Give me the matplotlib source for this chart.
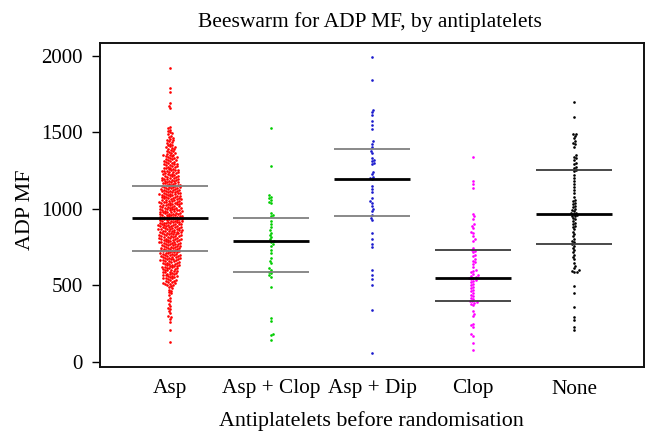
import numpy as np
import matplotlib
matplotlib.use("Agg")
import matplotlib.pyplot as plt

categories = ["Asp", "Asp + Clop", "Asp + Dip", "Clop", "None"]
colors = ["#FF0000", "#00CD00", "#1A1ACD", "#FF00FF", "#000000"]

asp = [1917, 1786, 1762, 1690, 1668, 1655, 1536, 1524, 1514, 1505,
       1498, 1492, 1485, 1478, 1470, 1463, 1457, 1451,
       1447, 1442, 1436, 1431, 1425, 1418, 1414, 1409, 1405, 1401,
       1397, 1393, 1389, 1384, 1380, 1376, 1371, 1367, 1363, 1358, 1354, 1351,
       1348, 1345, 1342, 1339, 1336, 1333, 1330, 1327, 1323, 1320, 1316, 1313, 1310, 1307, 1304, 1301,
       1298, 1295, 1292, 1290, 1287, 1284, 1281, 1278, 1275, 1272, 1269, 1266, 1264, 1261, 1258, 1255, 1253, 1251,
       1249, 1247, 1244, 1242, 1239, 1237, 1234, 1232, 1229, 1227, 1224, 1222, 1219, 1217, 1214, 1212, 1209, 1207, 1204, 1202,
       1199, 1197, 1195, 1193, 1190, 1188, 1186, 1183, 1181, 1179, 1176, 1174, 1172, 1170, 1167, 1165, 1163, 1160, 1158, 1156, 1154, 1152,
       1149, 1147, 1145, 1143, 1141, 1139, 1137, 1135, 1133, 1131, 1129, 1127, 1125, 1123, 1121, 1119, 1117, 1115, 1113, 1111, 1109, 1107, 1105, 1103, 1101,
       1099, 1097, 1095, 1094, 1092, 1090, 1088, 1086, 1085, 1083, 1081, 1079, 1077, 1075, 1073, 1071, 1069, 1067, 1065, 1063, 1061, 1059, 1057, 1055, 1053, 1051,
       1049, 1047, 1046, 1044, 1042, 1040, 1039, 1037, 1035, 1033, 1032, 1030, 1028, 1026, 1024, 1022, 1020, 1018, 1016, 1014, 1012, 1010, 1008, 1006, 1004, 1002, 1001,
       999, 997, 996, 994, 992, 990, 989, 987, 985, 983, 982, 980, 978, 976, 975, 973, 971, 969, 967, 965, 963, 961, 959, 958, 956, 954, 952, 951,
       949, 948, 946, 944, 943, 941, 940, 938, 936, 935, 933, 931, 930, 928, 926, 925, 923, 921, 920, 918, 916, 915, 913, 911, 910, 908, 906, 905, 903, 901,
       899, 898, 896, 894, 893, 891, 890, 888, 886, 885, 883, 881, 880, 878, 876, 875, 873, 871, 870, 868, 866, 865, 863, 861, 860, 858, 856, 855, 853, 851,
       849, 847, 846, 844, 842, 840, 839, 837, 835, 833, 832, 830, 828, 826, 825, 823, 821, 819, 817, 815, 813, 811, 809, 807, 805, 803, 802, 801,
       799, 797, 795, 794, 792, 790, 788, 786, 785, 783, 781, 779, 777, 775, 773, 771, 769, 767, 765, 763, 761, 759, 757, 755, 753, 751,
       749, 747, 745, 743, 741, 739, 737, 735, 733, 731, 729, 727, 725, 723, 721, 719, 717, 715, 713, 711, 709, 707, 705, 703, 701,
       699, 697, 695, 693, 691, 689, 687, 685, 683, 681, 679, 677, 675, 673, 671, 669, 667, 665, 663, 661, 659, 657, 655, 652,
       649, 647, 645, 642, 640, 638, 635, 633, 631, 628, 626, 624, 621, 619, 617, 614, 612, 610, 607, 605, 603, 601,
       598, 595, 593, 590, 587, 585, 582, 579, 577, 574, 571, 569, 566, 563, 561, 558, 555, 553, 551,
       548, 545, 541, 538, 534, 531, 527, 524, 520, 517, 513, 510, 507, 504, 501,
       496, 488, 480, 472, 463, 455, 447, 435, 420, 405, 395, 380, 365, 352,
       345, 330, 318, 303, 296, 280, 262, 209, 133]

asp_clop = [1525, 1280, 1090, 1080, 1070, 1060, 1045, 1035, 975, 960, 950, 920, 900,
            880, 860, 845, 830, 815, 800, 790, 785, 770, 760, 730, 710, 680, 660, 645,
            610, 600, 590, 580, 565, 555, 490, 285, 265, 185, 175, 140]

asp_dip = [1990, 1840, 1645, 1630, 1610, 1575, 1545, 1520, 1440, 1425, 1400, 1380,
           1365, 1330, 1320, 1310, 1300, 1290, 1240, 1225, 1210, 1200, 1195, 1150,
           1130, 1110, 1070, 1050, 1040, 1020, 1000, 985, 960, 940, 925, 840, 800,
           770, 750, 600, 570, 540, 500, 340, 60]

clop = [1340, 1180, 1160, 1135, 965, 950, 935, 900, 890, 875, 850, 840, 820, 800,
        790, 745, 730, 725, 715, 700, 690, 670, 660, 650, 640, 620, 600, 595, 585,
        575, 565, 560, 555, 550, 545, 540, 535, 530, 520, 510, 500, 490, 480, 470,
        460, 450, 440, 430, 420, 410, 400, 395, 390, 385, 380, 370, 330, 315, 300,
        250, 240, 230, 180, 170, 125, 80]

none = [1695, 1600, 1490, 1485, 1475, 1460, 1440, 1430, 1420, 1405, 1350, 1340,
        1330, 1320, 1300, 1290, 1275, 1265, 1255, 1245, 1220, 1200, 1180, 1160,
        1140, 1120, 1100, 1080, 1060, 1050, 1040, 1030, 1020, 1010, 1000, 990, 985,
        975, 970, 965, 960, 955, 950, 940, 930, 920, 910, 900, 890, 880, 865, 850,
        835, 820, 805, 790, 780, 770, 760, 745, 730, 715, 700, 685, 670, 645, 625,
        610, 600, 595, 590, 590, 495, 450, 360, 295, 275, 230, 210]

groups = [asp, asp_clop, asp_dip, clop, none]

medians = [938, 792, 1193, 548, 965]
q1 = [726, 590, 953, 400, 767]
q3 = [1151, 938, 1392, 731, 1253]
q_colors = ["#808080", "#808080", "#808080", "#3a3a3a", "#3a3a3a"]

yticks = [0, 500, 1000, 1500, 2000]

W, H, DPI = 6.59, 4.46, 100
fig = plt.figure(figsize=(W, H), dpi=DPI)
ax_left, ax_right, ax_top, ax_bot = 99.5, 644.0, 42.7, 367.0
ax = fig.add_axes([ax_left / 659, 1 - ax_bot / 446,
                   (ax_right - ax_left) / 659, (ax_bot - ax_top) / 446])
xlim = (0.30, 5.69)
ylim = (-33, 2084)
ax.set_xlim(*xlim)
ax.set_ylim(*ylim)

ppx = (ax_right - ax_left) / (xlim[1] - xlim[0])
ppy = (ax_bot - ax_top) / (ylim[1] - ylim[0])


def swarm_offsets(vals, d):
    ys = np.asarray(vals, dtype=float) * ppy
    order = np.argsort(ys)
    px, py = [], []
    xs = np.zeros(len(ys))
    for k, i in enumerate(order):
        y = ys[i]
        neigh = [(a, b) for a, b in zip(px, py) if abs(b - y) < d]
        cands = [0.0]
        for a, b in neigh:
            dx = np.sqrt(d * d - (b - y) ** 2)
            cands += [a + dx, a - dx]
        cands = sorted(cands, key=lambda c: (abs(c), c if k % 2 else -c))
        chosen = 0.0
        for c in cands:
            if all((c - a) ** 2 + (y - b) ** 2 >= d * d - 1e-6 for a, b in neigh):
                chosen = c
                break
        xs[i] = chosen
        px.append(chosen)
        py.append(y)
    return xs / ppx


for i, (vals, col) in enumerate(zip(groups, colors)):
    pos = i + 1
    offs = swarm_offsets(vals, 2.5)
    ax.scatter(pos + offs, vals, s=3.6, color=col, linewidths=0, zorder=3)

hw = 0.377
for i in range(len(categories)):
    pos = i + 1
    ax.plot([pos - hw, pos + hw], [medians[i], medians[i]], color="black", lw=2.0, zorder=4, solid_capstyle="butt")
    ax.plot([pos - hw, pos + hw], [q1[i], q1[i]], color=q_colors[i], lw=1.3, zorder=4, solid_capstyle="butt")
    ax.plot([pos - hw, pos + hw], [q3[i], q3[i]], color=q_colors[i], lw=1.3, zorder=4, solid_capstyle="butt")

font = "Liberation Serif"
ax.set_yticks(yticks)
ax.set_yticklabels([str(t) for t in yticks], fontfamily=font, fontsize=15)
ax.set_xticks(range(1, len(categories) + 1))
ax.set_xticklabels(categories, fontfamily=font, fontsize=15.3)
ax.tick_params(axis="y", length=6, width=1, pad=6, direction="out")
ax.tick_params(axis="x", length=0, pad=9)
for sp in ax.spines.values():
    sp.set_linewidth(1.4)
    sp.set_color("#111111")

ax.set_xlabel("Antiplatelets before randomisation", fontfamily=font, fontsize=15.8)
ax.xaxis.set_label_coords(0.5, -(421 - ax_bot) / (ax_bot - ax_top))
ax.xaxis.label.set_va("center")
ax.set_ylabel("ADP MF", fontfamily=font, fontsize=15.8)
ax.yaxis.set_label_coords(-(ax_left - 25) / (ax_right - ax_left), 0.5 + (205 - 210) / (ax_bot - ax_top))
ax.yaxis.label.set_va("center")
fig.text(370 / 659, 1 - 22 / 446, "Beeswarm for ADP MF, by antiplatelets",
         fontfamily=font, fontsize=15.5, ha="center", va="center")

fig.savefig("out.png", dpi=DPI)
